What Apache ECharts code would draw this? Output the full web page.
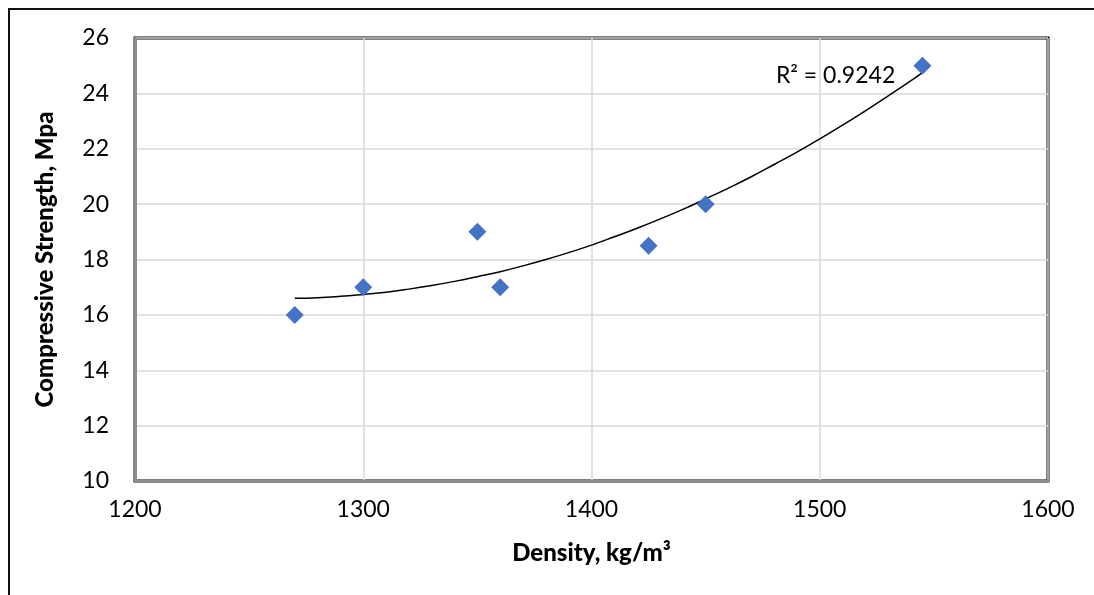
<!DOCTYPE html>
<html>
<head>
<meta charset="utf-8">
<script src="https://cdn.jsdelivr.net/npm/echarts@6/dist/echarts.min.js"></script>
<style>html,body{margin:0;padding:0;background:#fff;}#c{width:1094px;height:595px;}</style>
</head>
<body>
<div id="c"></div>
<script>
const density = [1270, 1300, 1350, 1360, 1425, 1450, 1545];
const strength = [16, 17, 19, 17, 18.5, 20, 25];
const trendX = [1270,1280,1290,1300,1310,1320,1330,1340,1350,1360,1370,1380,1390,1400,1410,1420,1430,1440,1450,1460,1470,1480,1490,1500,1510,1520,1530,1540,1545];
const trendY = [16.60,16.62,16.67,16.74,16.82,16.93,17.06,17.21,17.38,17.56,17.77,18.00,18.25,18.52,18.82,19.13,19.46,19.81,20.19,20.58,20.99,21.43,21.88,22.36,22.85,23.37,23.91,24.46,24.75];
const r2Label = 'R² = 0.9242';
const xName = 'Density, kg/m³';
const yName = 'Compressive Strength, Mpa';

const FONT = 'Lato';
const chart = echarts.init(document.getElementById('c'));
chart.setOption({
  animation: false,
  backgroundColor: '#fff',
  graphic: [{
    type: 'rect', silent: true, z: -10,
    shape: {x: 9, y: 9, width: 1200, height: 700},
    style: {fill: 'none', stroke: '#111', lineWidth: 2}
  }],
  grid: {left: 135, right: 46, top: 38, bottom: 114, show: true, borderColor: '#000', borderWidth: 3, backgroundColor: 'transparent'},
  xAxis: {
    type: 'value', min: 1200, max: 1600, interval: 100,
    name: xName, nameLocation: 'middle', nameGap: 60,
    nameTextStyle: {fontFamily: FONT, fontWeight: 900, fontSize: 24, color: '#000'},
    axisLine: {show: true, onZero: false, lineStyle: {color: '#8c8c8c', width: 3}},
    axisTick: {show: false},
    axisLabel: {fontFamily: FONT, fontSize: 23, color: '#000', margin: 17, formatter: v => String(v)},
    splitLine: {show: true, lineStyle: {color: '#d9d9d9', width: 1.5}}
  },
  yAxis: {
    type: 'value', min: 10, max: 26, interval: 2,
    name: yName, nameLocation: 'middle', nameGap: 78, nameRotate: 90,
    nameTextStyle: {fontFamily: FONT, fontWeight: 900, fontSize: 24, color: '#000'},
    axisLine: {show: true, onZero: false, lineStyle: {color: '#8c8c8c', width: 3}},
    axisTick: {show: false},
    axisLabel: {fontFamily: FONT, fontSize: 23, color: '#000', margin: 26, formatter: v => String(v)},
    splitLine: {show: true, lineStyle: {color: '#d9d9d9', width: 1.5}}
  },
  series: [{
    type: 'line',
    data: trendX.map((x, i) => [x, trendY[i]]),
    smooth: true, showSymbol: false, symbol: 'none',
    lineStyle: {color: '#000', width: 1.5},
    z: 3,
    markPoint: {
      symbol: 'rect', symbolSize: 1, itemStyle: {color: 'transparent'},
      data: [{coord: [1481, 24.63], value: 0}],
      label: {show: true, formatter: r2Label, position: [0, 0], align: 'left', verticalAlign: 'middle', fontFamily: FONT, fontSize: 23, color: '#000'}
    }
  }, {
    type: 'scatter',
    data: density.map((x, i) => [x, strength[i]]),
    symbol: 'diamond', symbolSize: 18,
    itemStyle: {color: '#4472C4', opacity: 1},
    z: 4
  }]
});
</script>
</body>
</html>
